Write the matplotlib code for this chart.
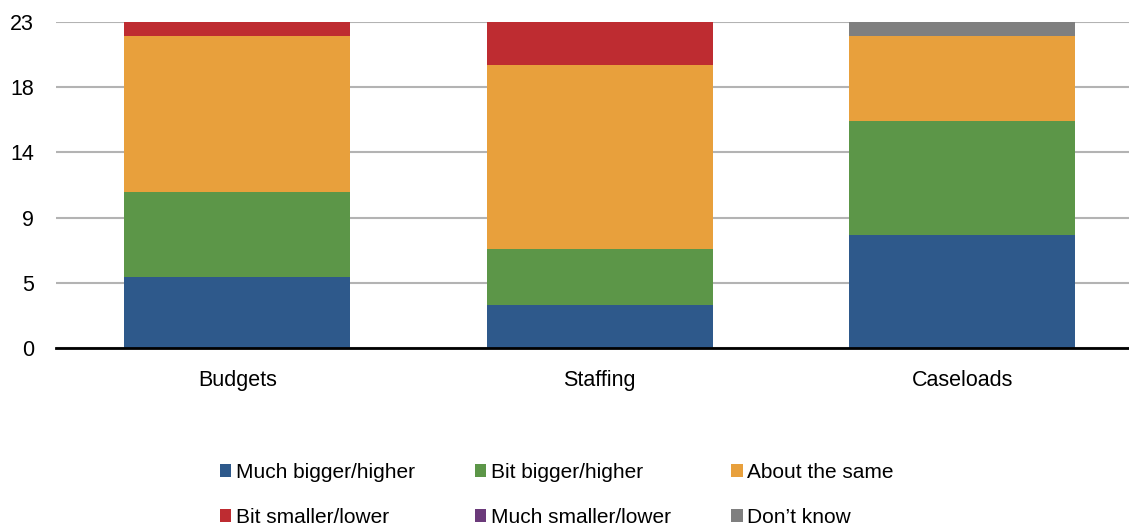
import matplotlib
matplotlib.use("Agg")
import matplotlib.pyplot as plt
import numpy as np
from matplotlib.patches import Patch

plt.rcParams['font.family'] = ['Liberation Sans', 'DejaVu Sans']

categories = ["Budgets", "Staffing", "Caseloads"]
series_names = ["Much bigger/higher", "Bit bigger/higher", "About the same",
                "Bit smaller/lower", "Much smaller/lower", "Don\u2019t know"]
much_bigger = [5, 3, 8]
bit_bigger = [6, 4, 8]
about_same = [11, 13, 6]
bit_smaller = [1, 3, 0]
much_smaller = [0, 0, 0]
dont_know = [0, 0, 1]
colors = ["#2e598b", "#5c9648", "#e8a03c", "#be2c31", "#6b3a7a", "#7f7f7f"]

series = [much_bigger, bit_bigger, about_same, bit_smaller, much_smaller, dont_know]

fig = plt.figure(figsize=(11.29, 5.25), dpi=100)
ax = fig.add_axes([56/1129, 1 - 348/525, 1 - 56/1129, (348 - 22)/525])

x = np.arange(len(categories))
bottom = np.zeros(len(categories))
for vals, c in zip(series, colors):
    v = np.array(vals, dtype=float)
    ax.bar(x, v, bottom=bottom, width=0.623, color=c, zorder=3,
           edgecolor='none')
    bottom += v

ymax = 23
ax.set_ylim(0, ymax)
ax.set_xlim(-0.5, (1129 - 56) / 362.5 - 0.5)
ticks = np.linspace(0, ymax, 6)
ax.set_yticks(ticks)
ax.set_yticklabels([f"{t:.0f}" for t in ticks], fontsize=15.5)
ax.set_xticks(x)
ax.set_xticklabels(categories, fontsize=15.5)
ax.tick_params(axis='both', length=0)
ax.tick_params(axis='y', pad=16)
ax.tick_params(axis='x', pad=15.5)

ax.yaxis.grid(True, color='#b3b3b3', linewidth=1.5, zorder=0)
for s in ['top', 'right', 'left']:
    ax.spines[s].set_visible(False)
ax.spines['bottom'].set_color('black')
ax.spines['bottom'].set_linewidth(2)
ax.spines['bottom'].set_zorder(4)

handles = [Patch(facecolor=c, edgecolor='none') for c in colors]
order = [0, 3, 1, 4, 2, 5]
fig.legend([handles[i] for i in order], [series_names[i] for i in order],
           loc='center', ncol=3,
           bbox_to_anchor=(0.493, 1 - 495/525), frameon=False, fontsize=15,
           handlelength=0.55, handleheight=0.55, handletextpad=0.2,
           columnspacing=2.9, labelspacing=1.25)

fig.savefig("out.png", dpi=100)
